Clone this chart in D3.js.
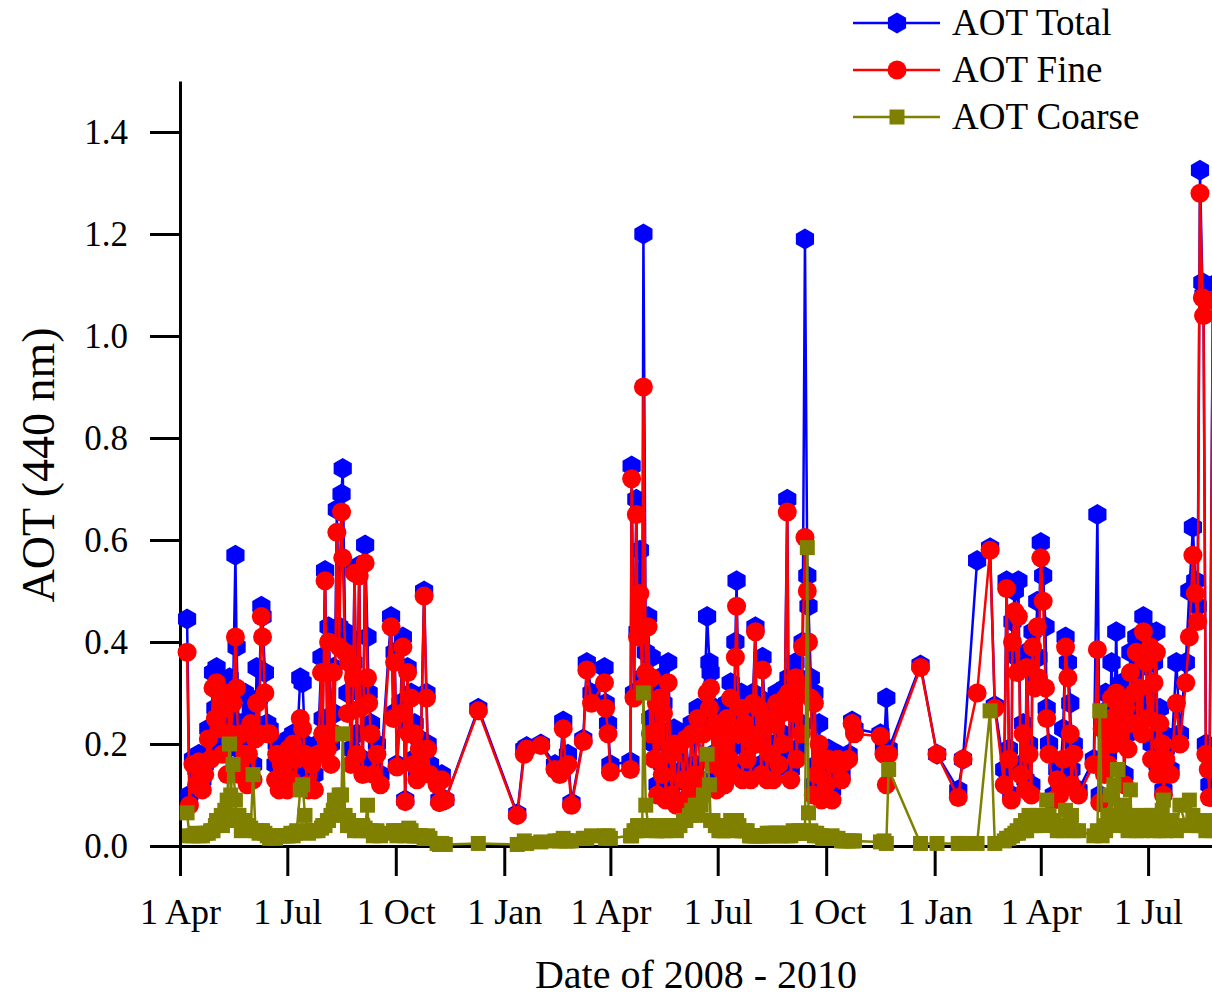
<!DOCTYPE html>
<html><head><meta charset="utf-8">
<script src="https://cdn.jsdelivr.net/npm/d3@7"></script>
<style>body{margin:0;background:#fff}</style>
</head><body>
<svg id="c" width="1212" height="1003"></svg>
<script>
const obsDay = [6,8,11,14,16,19,21,24,26,28,30,31,33,35,36,38,40,42,43,45,47,48,50,52,53,55,57,58,60,62,64,65,67,69,70,72,74,76,81,82,84,86,87,89,91,92,94,96,98,99,102,104,106,108,109,112,114,117,120,121,123,125,126,128,130,131,133,135,137,138,140,142,143,145,147,148,150,152,153,155,157,159,160,162,164,167,170,179,181,182,184,187,189,191,193,194,196,198,199,201,203,204,207,209,210,212,218,220,222,225,253,286,292,294,306,318,322,325,327,329,332,342,345,349,360,361,363,365,382,383,385,387,388,390,392,393,395,397,399,400,402,404,405,407,409,410,412,414,416,417,419,421,424,427,429,432,434,437,439,442,444,447,449,450,452,454,455,457,459,460,462,464,466,467,469,471,472,474,476,477,479,481,483,484,486,488,489,491,493,494,496,498,499,501,503,505,506,508,510,511,513,515,516,518,520,522,523,525,527,528,530,532,533,535,537,538,540,542,544,545,548,550,553,555,558,561,564,567,570,572,594,597,599,601,628,642,660,664,676,687,691,699,701,703,705,706,708,710,711,713,715,717,718,720,722,723,725,727,728,730,732,734,735,737,741,744,746,749,751,753,755,756,758,762,775,778,780,782,784,785,787,789,790,792,794,795,797,799,801,802,804,806,807,809,811,812,814,816,817,819,821,823,824,826,828,829,831,833,834,836,840,845,848,853,856,859,861,863,865,867,868,870,872,873,876];
const aotTotal = [.445,.10,.17,.15,.18,.13,.16,.23,.19,.34,.27,.35,.26,.32,.20,.30,.19,.33,.25,.30,.57,.39,.20,.24,.17,.30,.14,.21,.27,.16,.24,.35,.29,.47,.45,.34,.24,.23,.16,.20,.13,.18,.15,.19,.12,.21,.16,.22,.14,.19,.33,.32,.20,.15,.13,.19,.14,.20,.37,.25,.54,.22,.43,.20,.35,.26,.66,.43,.69,.74,.42,.30,.41,.19,.36,.54,.22,.55,.30,.17,.59,.41,.30,.24,.15,.20,.14,.45,.26,.38,.16,.28,.41,.09,.35,.24,.30,.17,.24,.14,.21,.17,.50,.30,.20,.16,.13,.09,.14,.09,.27,.063,.19,.195,.20,.16,.15,.245,.16,.18,.085,.21,.36,.30,.35,.28,.24,.16,.165,.745,.30,.68,.42,.58,.33,1.20,.38,.45,.25,.37,.20,.30,.12,.33,.16,.28,.11,.36,.20,.12,.23,.09,.22,.15,.22,.12,.24,.16,.27,.13,.24,.45,.36,.34,.18,.27,.13,.25,.17,.22,.14,.28,.19,.32,.16,.40,.52,.24,.30,.14,.27,.19,.24,.15,.30,.43,.22,.29,.16,.37,.25,.15,.27,.20,.14,.26,.30,.18,.28,.22,.31,.68,.33,.15,.29,.36,.19,.33,.24,.40,1.19,.53,.47,.33,.12,.30,.16,.24,.11,.18,.14,.19,.11,.17,.18,.14,.17,.18,.245,.23,.22,.19,.29,.19,.355,.18,.11,.17,.56,.585,.275,.15,.52,.19,.10,.44,.50,.37,.52,.16,.24,.13,.38,.20,.12,.42,.33,.48,.37,.595,.53,.43,.27,.20,.10,.15,.12,.23,.41,.36,.28,.15,.20,.11,.17,.65,.10,.26,.16,.30,.18,.27,.36,.22,.42,.29,.26,.32,.14,.30,.22,.38,.26,.33,.41,.28,.35,.26,.45,.39,.29,.42,.20,.36,.42,.16,.27,.22,.11,.19,.15,.36,.22,.36,.50,.625,.52,.47,1.325,1.105,1.08,.20,.19,.12,1.10];
const aotFine = [.38,.08,.16,.12,.165,.11,.14,.21,.17,.31,.25,.32,.23,.29,.18,.27,.14,.30,.22,.28,.41,.31,.14,.22,.14,.18,.12,.18,.24,.13,.21,.28,.22,.45,.41,.30,.22,.22,.13,.18,.11,.16,.13,.17,.11,.19,.13,.20,.12,.17,.25,.23,.18,.12,.11,.16,.11,.18,.34,.22,.52,.19,.40,.16,.34,.22,.615,.39,.655,.565,.38,.26,.36,.16,.33,.535,.18,.53,.27,.14,.555,.33,.28,.22,.14,.18,.12,.43,.25,.36,.155,.26,.39,.087,.34,.22,.29,.16,.22,.13,.19,.16,.49,.29,.19,.14,.12,.085,.13,.09,.265,.06,.18,.19,.197,.15,.14,.23,.155,.16,.08,.205,.345,.28,.32,.27,.22,.145,.15,.72,.29,.65,.41,.495,.31,.90,.34,.43,.22,.33,.17,.28,.10,.29,.14,.26,.09,.32,.18,.10,.20,.08,.20,.13,.21,.10,.22,.14,.25,.12,.22,.30,.27,.31,.16,.24,.11,.23,.15,.20,.12,.25,.17,.29,.14,.37,.47,.22,.27,.13,.24,.17,.22,.13,.28,.42,.20,.27,.14,.345,.23,.13,.25,.18,.13,.24,.28,.16,.26,.20,.29,.655,.30,.13,.26,.33,.17,.31,.22,.39,.605,.50,.40,.29,.10,.28,.14,.20,.09,.17,.12,.17,.09,.16,.17,.13,.165,.17,.24,.22,.215,.18,.12,.18,.35,.18,.095,.17,.30,.58,.27,.12,.505,.17,.09,.40,.46,.34,.45,.14,.22,.11,.35,.18,.10,.39,.31,.43,.33,.565,.48,.31,.25,.18,.09,.13,.10,.17,.39,.33,.22,.12,.18,.10,.16,.385,.085,.23,.14,.25,.16,.24,.29,.20,.30,.26,.22,.28,.12,.27,.19,.34,.24,.30,.38,.24,.31,.22,.42,.36,.25,.39,.17,.32,.38,.14,.24,.20,.10,.17,.14,.28,.20,.32,.41,.57,.495,.44,1.28,1.075,1.04,.18,.15,.095,1.07];
const aotCoarse = [.065,.02,.02,.025,.02,.02,.025,.025,.03,.03,.04,.05,.05,.06,.04,.07,.09,.20,.10,.16,.09,.05,.06,.03,.04,.05,.04,.04,.035,.14,.03,.03,.025,.03,.03,.025,.02,.015,.015,.02,.02,.02,.02,.02,.02,.02,.025,.02,.025,.03,.11,.12,.06,.03,.025,.03,.03,.03,.035,.04,.04,.05,.05,.06,.07,.09,.08,.10,.10,.22,.06,.04,.05,.04,.04,.03,.04,.035,.03,.04,.035,.08,.03,.03,.02,.03,.02,.025,.03,.03,.02,.03,.03,.02,.03,.035,.03,.02,.02,.02,.02,.02,.015,.015,.02,.015,.005,.003,.005,.003,.005,.003,.01,.005,.008,.01,.01,.015,.01,.01,.01,.015,.015,.02,.02,.015,.02,.015,.02,.02,.03,.03,.04,.04,.03,.30,.08,.04,.04,.035,.04,.03,.03,.04,.03,.035,.03,.04,.035,.04,.04,.03,.04,.05,.05,.06,.07,.08,.06,.08,.10,.18,.12,.05,.05,.04,.04,.03,.04,.03,.03,.04,.04,.05,.03,.04,.05,.04,.03,.03,.03,.03,.02,.02,.02,.02,.02,.02,.02,.02,.02,.025,.02,.025,.02,.025,.025,.02,.025,.02,.025,.02,.025,.02,.03,.025,.025,.03,.025,.03,.025,.585,.065,.03,.025,.02,.025,.02,.02,.015,.015,.015,.02,.015,.015,.01,.01,.01,.01,.01,.008,.01,.005,.15,.005,.005,.005,.005,.005,.265,.005,.01,.015,.015,.02,.02,.025,.03,.025,.04,.03,.05,.03,.06,.04,.05,.04,.06,.05,.05,.04,.05,.09,.06,.05,.03,.04,.03,.07,.04,.05,.06,.03,.03,.02,.03,.265,.02,.04,.03,.06,.10,.05,.12,.04,.15,.06,.05,.08,.04,.03,.11,.04,.06,.03,.04,.05,.03,.04,.05,.06,.04,.06,.03,.05,.04,.03,.07,.09,.03,.05,.03,.08,.04,.09,.06,.05,.04,.04,.05,.04,.03,.05,.04,.03,.03];
const seriesNames = ["AOT Total", "AOT Fine", "AOT Coarse"];
const seriesColors = ["#0000ff", "#ff0000", "#808000"];
const yTickLabels = ["0.0", "0.2", "0.4", "0.6", "0.8", "1.0", "1.2", "1.4"];
const xTickLabels = ["1 Apr", "1 Jul", "1 Oct", "1 Jan", "1 Apr", "1 Jul", "1 Oct", "1 Jan", "1 Apr", "1 Jul"];

const FONT = "'Liberation Serif','Times New Roman',serif";
const svg = d3.select("#c");
const start = new Date(2008, 3, 1);
const toDate = d => d3.timeDay.offset(start, d);

const x = d3.scaleTime().domain([start, new Date(2010, 8, 1)]).range([180, 1221.2]);
const y = d3.scaleLinear().domain([0, 1.5]).range([846, 81]);

// Axes
const majorX = d3.timeMonth.every(3).range(start, new Date(2010, 8, 2));
const minorX = d3.timeMonth.range(start, new Date(2010, 8, 2)).filter(d => d.getMonth() % 3 !== 0);

const gx = svg.append("g").attr("transform", "translate(0,846)");
gx.call(d3.axisBottom(x).tickValues(minorX).tickSize(17).tickSizeOuter(0).tickFormat(""));
gx.call(d3.axisBottom(x).tickValues(majorX).tickSize(30).tickSizeOuter(0).tickPadding(22)
  .tickFormat((d, i) => xTickLabels[i]));
gx.selectAll("path.domain").attr("stroke", "#000").attr("stroke-width", 3);
gx.selectAll(".tick line").attr("stroke", "#000").attr("stroke-width", 3);
gx.selectAll(".tick text").attr("font-family", FONT).attr("font-size", 36).attr("fill", "#000");

const gy = svg.append("g").attr("transform", "translate(180,0)");
gy.call(d3.axisLeft(y).tickValues([0.1, 0.3, 0.5, 0.7, 0.9, 1.1, 1.3, 1.5]).tickSize(17).tickSizeOuter(0).tickFormat(""));
gy.call(d3.axisLeft(y).tickValues([0, 0.2, 0.4, 0.6, 0.8, 1.0, 1.2, 1.4]).tickSize(30).tickSizeOuter(0).tickPadding(22)
  .tickFormat((d, i) => yTickLabels[i]));
gy.selectAll("path.domain").attr("stroke", "#000").attr("stroke-width", 3);
gy.selectAll(".tick line").attr("stroke", "#000").attr("stroke-width", 3);
gy.selectAll(".tick text").attr("font-family", FONT).attr("font-size", 35).attr("fill", "#000");

// Titles
svg.append("text").attr("x", 696).attr("y", 988).attr("text-anchor", "middle")
  .attr("font-family", FONT).attr("font-size", 40).text("Date of 2008 - 2010");
svg.append("text").attr("transform", "translate(54,465) rotate(-90)").attr("text-anchor", "middle")
  .attr("font-family", FONT).attr("font-size", 46).text("AOT (440 nm)");

// Symbols
const hexPath = r => {
  const p = d3.path();
  for (let i = 0; i < 6; i++) {
    const a = (-90 + 60 * i) * Math.PI / 180;
    const px = r * Math.cos(a), py = r * Math.sin(a);
    if (i === 0) p.moveTo(px, py); else p.lineTo(px, py);
  }
  p.closePath();
  return p.toString();
};
const symbolDraw = [
  (g, c) => g.append("path").attr("d", hexPath(10.5)).attr("fill", c),
  (g, c) => g.append("circle").attr("r", 9.5).attr("fill", c),
  (g, c) => g.append("rect").attr("x", -7.5).attr("y", -7.5).attr("width", 15).attr("height", 15).attr("fill", c)
];

const seriesValues = [aotTotal, aotFine, aotCoarse];
const plot = svg.append("g");
const line = d3.line().x(d => x(d.date)).y(d => y(d.v));
seriesValues.forEach((vals, si) => {
  const pts = obsDay.map((d, i) => ({ date: toDate(d), v: vals[i] }));
  plot.append("path").datum(pts).attr("d", line).attr("fill", "none")
    .attr("stroke", seriesColors[si]).attr("stroke-width", 2.5).attr("stroke-linejoin", "round");
  pts.forEach(p => {
    const g = plot.append("g").attr("transform", `translate(${x(p.date)},${y(p.v)})`);
    symbolDraw[si](g, seriesColors[si]);
  });
});

// Legend
const legRows = [23, 70, 117];
seriesNames.forEach((name, i) => {
  const ly = legRows[i];
  const g = svg.append("g");
  g.append("line").attr("x1", 853).attr("x2", 940).attr("y1", ly).attr("y2", ly)
    .attr("stroke", seriesColors[i]).attr("stroke-width", 2.5);
  const m = g.append("g").attr("transform", `translate(897,${ly})`);
  symbolDraw[i](m, seriesColors[i]);
  g.append("text").attr("x", 952).attr("y", ly + 12).attr("font-family", FONT)
    .attr("font-size", 37).attr("fill", "#000").text(name);
});
</script>
</body></html>
